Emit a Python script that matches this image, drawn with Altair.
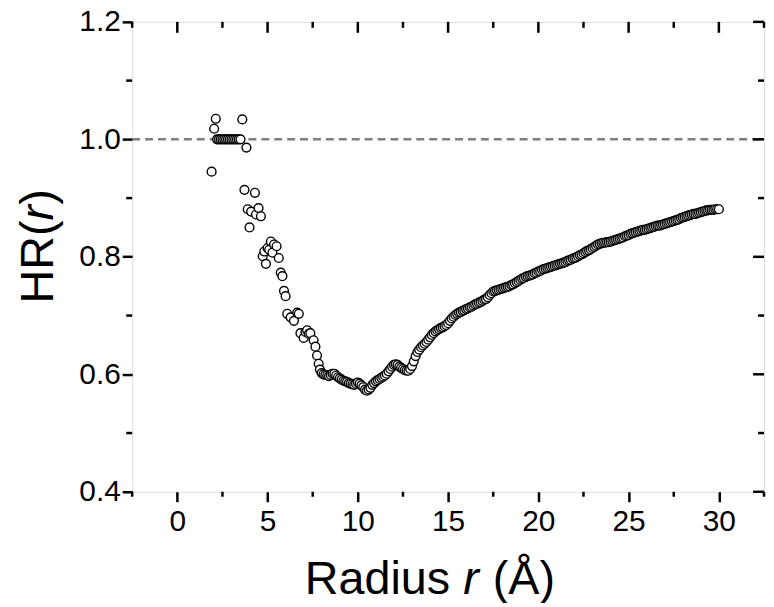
import altair as alt
import pandas as pd

# ---- data ----
r_sparse = [1.9, 2.04, 2.13, 2.2, 2.3, 2.4, 2.5, 2.6, 2.7, 2.8, 2.9, 3.0, 3.1, 3.2, 3.3, 3.4, 3.5,
            3.6, 3.72, 3.83, 3.9, 4.0, 4.09, 4.3, 4.36, 4.5, 4.63, 4.73, 4.82, 4.91, 5.0, 5.09,
            5.18, 5.27, 5.36, 5.5, 5.62, 5.73, 5.82, 5.91, 6.0, 6.09, 6.28, 6.46, 6.64, 6.73,
            6.82, 7.0, 7.1, 7.19, 7.28, 7.37, 7.55, 7.65, 7.74, 7.83]
hr_sparse = [0.945, 1.018, 1.035, 1.0, 1.0, 1.0, 1.0, 1.0, 1.0, 1.0, 1.0, 1.0, 1.0, 1.0, 1.0, 1.0, 1.0,
             1.034, 0.914, 0.986, 0.881, 0.850, 0.877, 0.909, 0.872, 0.883, 0.869, 0.801, 0.809, 0.788,
             0.815, 0.812, 0.826, 0.807, 0.821, 0.818, 0.798, 0.773, 0.767, 0.742, 0.733, 0.703,
             0.697, 0.691, 0.705, 0.703, 0.670, 0.662, 0.672, 0.675, 0.669, 0.670, 0.658, 0.647,
             0.632, 0.618]

r_dense = [
    7.9, 8.0, 8.1, 8.2, 8.3, 8.4, 8.5, 8.6, 8.7, 8.8, 8.9,
    9.0, 9.1, 9.2, 9.3, 9.4, 9.5, 9.6, 9.7, 9.8, 9.9,
    10.0, 10.1, 10.2, 10.3, 10.4, 10.5, 10.6, 10.7, 10.8, 10.9,
    11.0, 11.1, 11.2, 11.3, 11.4, 11.5, 11.6, 11.7, 11.8, 11.9,
    12.0, 12.1, 12.2, 12.3, 12.4, 12.5, 12.6, 12.7, 12.8, 12.9,
    13.0, 13.1, 13.2, 13.3, 13.4, 13.5, 13.6, 13.7, 13.8, 13.9,
    14.0, 14.1, 14.2, 14.3, 14.4, 14.5, 14.6, 14.7, 14.8, 14.9,
    15.0, 15.1, 15.2, 15.3, 15.4, 15.5, 15.6, 15.7, 15.8, 15.9,
    16.0, 16.1, 16.2, 16.3, 16.4, 16.5, 16.6, 16.7, 16.8, 16.9,
    17.0, 17.1, 17.2, 17.3, 17.4, 17.5, 17.6, 17.7, 17.8, 17.9,
    18.0, 18.1, 18.2, 18.3, 18.4, 18.5, 18.6, 18.7, 18.8, 18.9,
    19.0, 19.1, 19.2, 19.3, 19.4, 19.5, 19.6, 19.7, 19.8, 19.9,
    20.0, 20.1, 20.2, 20.3, 20.4, 20.5, 20.6, 20.7, 20.8, 20.9,
    21.0, 21.1, 21.2, 21.3, 21.4, 21.5, 21.6, 21.7, 21.8, 21.9,
    22.0, 22.1, 22.2, 22.3, 22.4, 22.5, 22.6, 22.7, 22.8, 22.9,
    23.0, 23.1, 23.2, 23.3, 23.4, 23.5, 23.6, 23.7, 23.8, 23.9,
    24.0, 24.1, 24.2, 24.3, 24.4, 24.5, 24.6, 24.7, 24.8, 24.9,
    25.0, 25.1, 25.2, 25.3, 25.4, 25.5, 25.6, 25.7, 25.8, 25.9,
    26.0, 26.1, 26.2, 26.3, 26.4, 26.5, 26.6, 26.7, 26.8, 26.9,
    27.0, 27.1, 27.2, 27.3, 27.4, 27.5, 27.6, 27.7, 27.8, 27.9,
    28.0, 28.1, 28.2, 28.3, 28.4, 28.5, 28.6, 28.7, 28.8, 28.9,
    29.0, 29.1, 29.2, 29.3, 29.4, 29.5, 29.6, 29.7, 29.8, 29.9, 30.0]
hr_dense = [
    0.608, 0.602, 0.600, 0.599, 0.598, 0.597, 0.599, 0.601, 0.601, 0.598, 0.595,
    0.593, 0.591, 0.589, 0.588, 0.587, 0.585, 0.584, 0.583, 0.582, 0.584,
    0.586, 0.584, 0.581, 0.578, 0.574, 0.572, 0.574, 0.577, 0.582, 0.585,
    0.588, 0.590, 0.592, 0.594, 0.596, 0.598, 0.601, 0.605, 0.609, 0.613,
    0.616, 0.617, 0.616, 0.613, 0.611, 0.609, 0.607, 0.606, 0.606, 0.609,
    0.614, 0.622, 0.631, 0.638, 0.642, 0.646, 0.649, 0.652, 0.655, 0.659,
    0.663, 0.667, 0.670, 0.673, 0.675, 0.677, 0.679, 0.680, 0.682, 0.684,
    0.687, 0.691, 0.695, 0.698, 0.701, 0.703, 0.705, 0.706, 0.708, 0.709,
    0.711, 0.712, 0.714, 0.715, 0.717, 0.719, 0.720, 0.722, 0.723, 0.725,
    0.727, 0.728, 0.731, 0.735, 0.738, 0.741, 0.742, 0.743, 0.744, 0.745,
    0.746, 0.747, 0.748, 0.749, 0.750, 0.752, 0.753, 0.755, 0.757, 0.759,
    0.761, 0.763, 0.764, 0.766, 0.767, 0.768, 0.769, 0.770, 0.772, 0.773,
    0.775, 0.776, 0.778, 0.779, 0.780, 0.781, 0.782, 0.783, 0.784, 0.785,
    0.786, 0.787, 0.788, 0.789, 0.790, 0.791, 0.793, 0.794, 0.795, 0.797,
    0.798, 0.799, 0.801, 0.803, 0.804, 0.806, 0.808, 0.810, 0.811, 0.813,
    0.815, 0.817, 0.819, 0.821, 0.822, 0.823, 0.824, 0.824, 0.825, 0.825,
    0.826, 0.827, 0.828, 0.829, 0.830, 0.831, 0.832, 0.833, 0.835, 0.836,
    0.837, 0.839, 0.840, 0.841, 0.842, 0.843, 0.844, 0.845, 0.846, 0.846,
    0.847, 0.848, 0.849, 0.850, 0.851, 0.852, 0.853, 0.853, 0.854, 0.855,
    0.856, 0.857, 0.858, 0.859, 0.860, 0.861, 0.862, 0.863, 0.864, 0.866,
    0.867, 0.868, 0.869, 0.870, 0.871, 0.872, 0.873, 0.873, 0.874, 0.875,
    0.876, 0.877, 0.878, 0.879, 0.879, 0.880, 0.880, 0.880, 0.881, 0.881, 0.881]

x_major = [0, 5, 10, 15, 20, 25, 30]
x_minor = [-2.5, 2.5, 7.5, 12.5, 17.5, 22.5, 27.5, 32.5]
y_major = [0.4, 0.6, 0.8, 1.0, 1.2]
y_minor = [0.5, 0.7, 0.9, 1.1]
ref_level = [1.0]

W, H = 636, 473
FONT = "Liberation Sans"
INK = "#000000"
TICKFS = 30
TITLEFS = 47

xs = alt.Scale(domain=[-2.5, 32.5], nice=False, zero=False)
ys = alt.Scale(domain=[0.4, 1.2], nice=False, zero=False)
xaxis = alt.Axis(values=x_major, tickSize=10, tickWidth=2.5, tickColor=INK, domain=False,
                 grid=False, labelFont=FONT, labelFontSize=TICKFS, labelColor=INK,
                 labelPadding=5, title=None, labelFlush=False, labelOverlap=False)
yaxis = alt.Axis(values=y_major, format=".1f", tickSize=10, tickWidth=2.5, tickColor=INK,
                 domain=False, grid=False, labelFont=FONT, labelFontSize=TICKFS, labelColor=INK,
                 labelPadding=2, title=None, labelFlush=False, labelOverlap=False)

pts = pd.DataFrame({"r": r_sparse + r_dense, "hr": hr_sparse + hr_dense})

points = alt.Chart(pts).mark_point(
    shape="circle", filled=False, fill="white", fillOpacity=1, stroke=INK,
    strokeWidth=1.4, size=78, opacity=1
).encode(
    x=alt.X("r:Q", scale=xs, axis=xaxis, title=None),
    y=alt.Y("hr:Q", scale=ys, axis=yaxis, title=None),
)

dash = alt.Chart(pd.DataFrame({"hr": ref_level})).mark_rule(
    color="#7f7f7f", strokeWidth=2.5, strokeDash=[8, 5]
).encode(y=alt.Y("hr:Q", scale=ys, axis=yaxis, title=None), x=alt.value(0), x2=alt.value(W))

xmaj = pd.DataFrame({"r": x_major})
xmin = pd.DataFrame({"r": x_minor})
ymaj = pd.DataFrame({"hr": y_major})
ymin = pd.DataFrame({"hr": y_minor})

def xticks(df, y0, y1):
    return alt.Chart(df).mark_rule(color=INK, strokeWidth=2.5).encode(
        x=alt.X("r:Q", scale=xs, axis=xaxis, title=None), y=alt.value(y0), y2=alt.value(y1))

def yticks(df, x0, x1):
    return alt.Chart(df).mark_rule(color=INK, strokeWidth=2.5).encode(
        y=alt.Y("hr:Q", scale=ys, axis=yaxis, title=None), x=alt.value(x0), x2=alt.value(x1))

tick_layers = [
    xticks(xmin, H, H + 5),          # bottom minor, outward
    xticks(xmaj, 0, 11),             # top major, inward
    xticks(xmin, 0, 6),              # top minor, inward
    yticks(ymin, -6, 0),             # left minor, outward
    yticks(ymaj, W - 11, W),         # right major, inward
    yticks(ymin, W - 6, W),          # right minor, inward
]

def label(text, x, y, align, italic=False, angle=0, baseline="alphabetic"):
    return alt.Chart(pd.DataFrame({"t": [text]})).mark_text(
        font=FONT, fontSize=TITLEFS, color=INK, align=align, baseline=baseline,
        fontStyle="italic" if italic else "normal", angle=angle
    ).encode(text="t:N", x=alt.value(x), y=alt.value(y))

# x title: "Radius r (Å)"
xt_y = 576
x_title = [
    label("Radius", 320, xt_y, "right"),
    label("r", 341, xt_y, "center", italic=True),
    label("(Å)", 363, xt_y, "left"),
]
# y title: "HR(r)" rotated
yt_x = -80
y_title = [
    label("HR(", yt_x, 200, "right", angle=270),
    label("r", yt_x, 192, "center", italic=True, angle=270),
    label(")", yt_x, 184, "left", angle=270),
]

chart = alt.layer(dash, points, *tick_layers, *x_title, *y_title).properties(
    width=W, height=H,
    autosize=alt.AutoSizeParams(type="none"),
    padding={"left": 125, "top": 12, "right": 2, "bottom": 110},
).configure_view(stroke=INK, strokeWidth=2.5).configure(background="white")

chart.save("out.html", embed_options={"renderer": "svg", "actions": False})
